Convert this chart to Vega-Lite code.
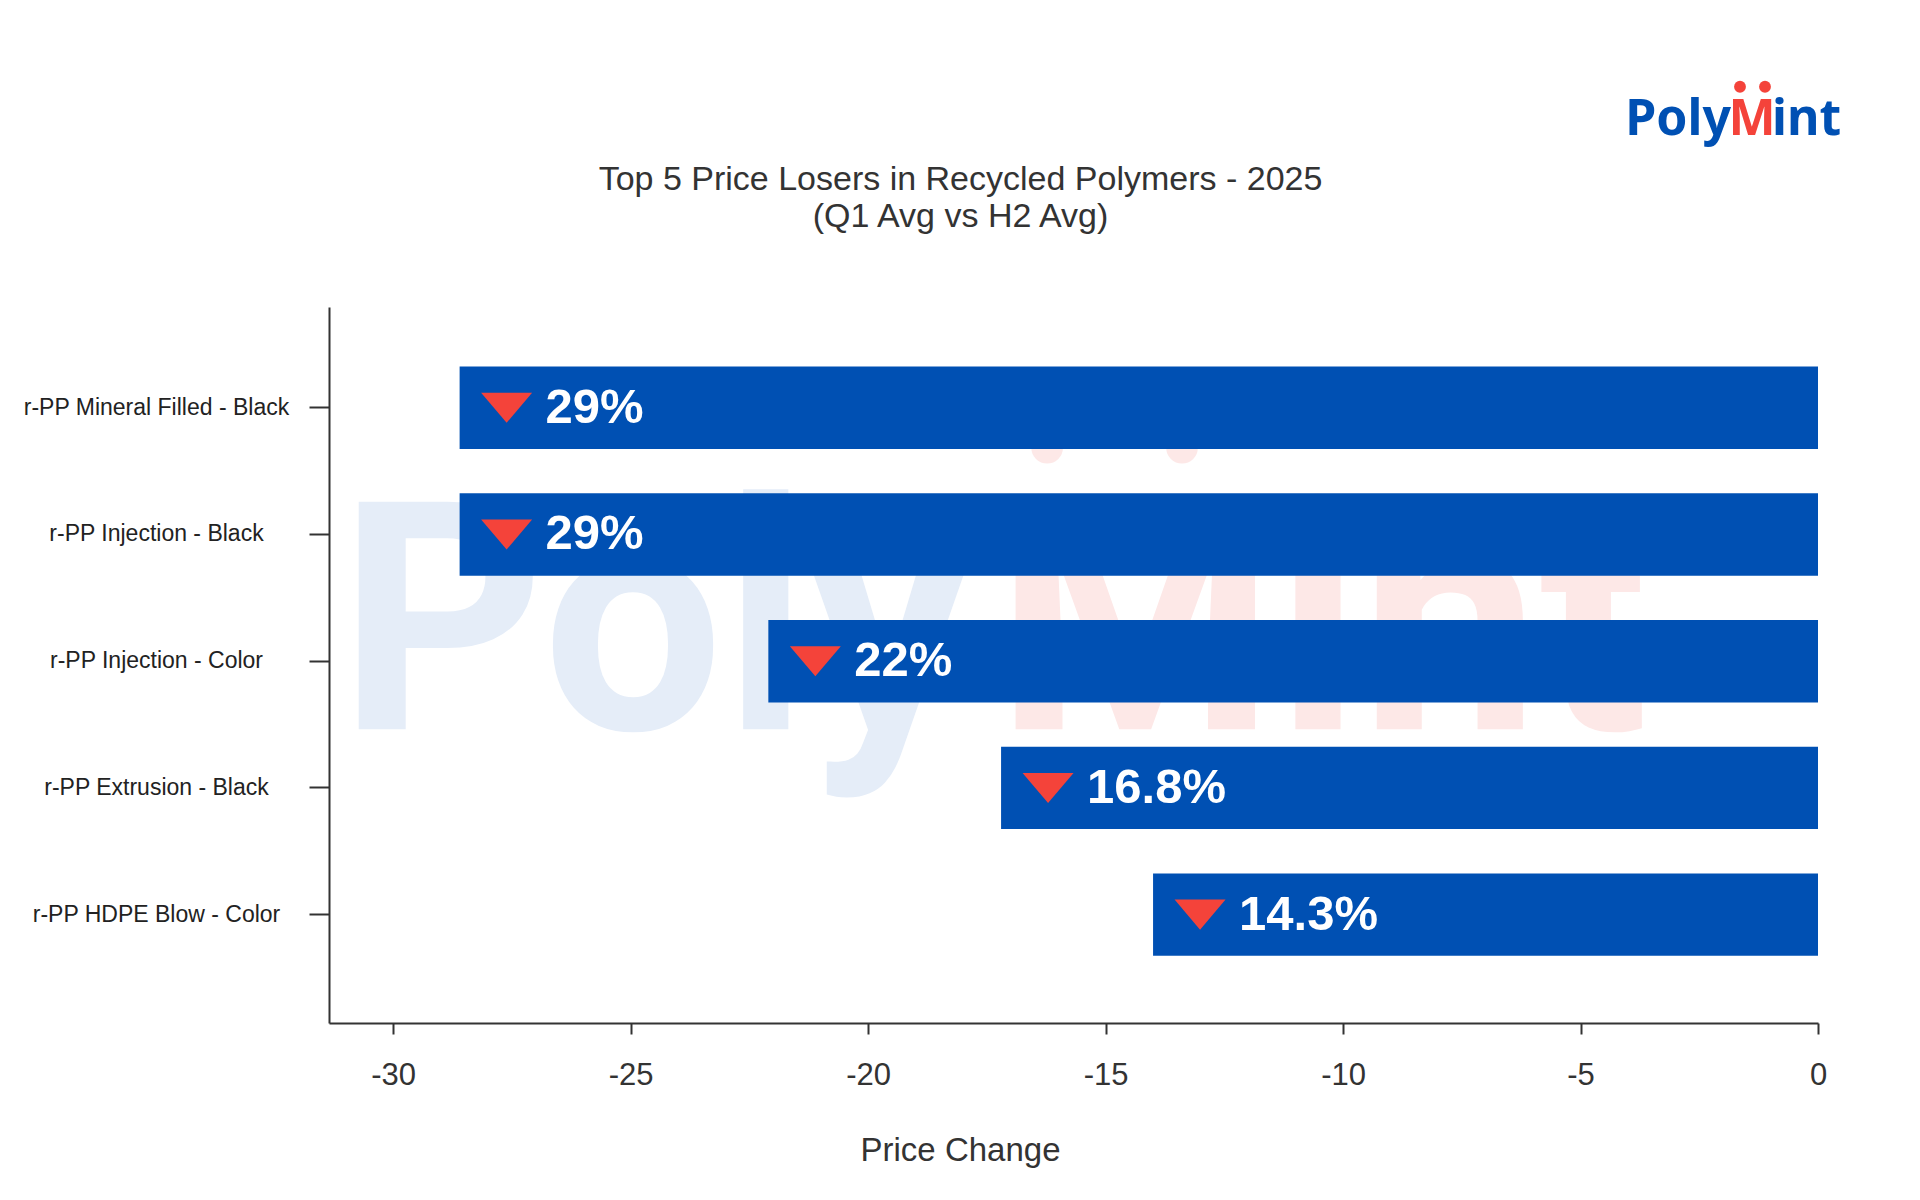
{
  "$schema": "https://vega.github.io/schema/vega-lite/v6.json",
  "width": 1489,
  "height": 716,
  "autosize": {"type": "none"},
  "padding": {"left": 329, "top": 307, "right": 102, "bottom": 177},
  "background": "#ffffff",
  "config": {"view": {"stroke": null}, "font": "Liberation Sans"},
  "title": {
    "text": ["Top 5 Price Losers in Recycled Polymers - 2025", "(Q1 Avg vs H2 Avg)"],
    "font": "Liberation Sans",
    "fontSize": 34,
    "fontWeight": "normal",
    "color": "#333333",
    "lineHeight": 37,
    "anchor": "middle",
    "frame": "group",
    "dx": -113,
    "offset": -153
  },
  "data": {
    "values": [
      {"product": "r-PP Mineral Filled - Black", "change": -28.6, "pct": "29%"},
      {"product": "r-PP Injection - Black", "change": -28.6, "pct": "29%"},
      {"product": "r-PP Injection - Color", "change": -22.1, "pct": "22%"},
      {"product": "r-PP Extrusion - Black", "change": -17.2, "pct": "16.8%"},
      {"product": "r-PP HDPE Blow - Color", "change": -14.0, "pct": "14.3%"}
    ]
  },
  "layer": [
    {
      "data": {"values": [{}]},
      "mark": {"type": "text", "text": "Poly", "align": "left", "baseline": "alphabetic", "font": "Roboto", "fontWeight": "bold", "fontSize": 320, "color": "#e5edf8", "dy": 68},
      "encoding": {
        "x": {"datum": -31.15, "type": "quantitative"},
        "y": {"datum": "r-PP Injection - Color", "type": "nominal"}
      }
    },
    {
      "data": {"values": [{}]},
      "mark": {"type": "text", "text": "Mint", "align": "left", "baseline": "alphabetic", "font": "Roboto", "fontWeight": "bold", "fontSize": 320, "color": "#fde8e7", "dy": 68},
      "encoding": {
        "x": {"datum": -17.32, "type": "quantitative"},
        "y": {"datum": "r-PP Injection - Color", "type": "nominal"}
      }
    },
    {
      "data": {"values": [{"dot": -16.23}, {"dot": -13.39}]},
      "mark": {"type": "point", "shape": "circle", "filled": true, "opacity": 1, "size": 1000, "color": "#fde8e7", "yOffset": 40},
      "encoding": {
        "x": {"field": "dot", "type": "quantitative"},
        "y": {"datum": "r-PP Mineral Filled - Black", "type": "nominal"}
      }
    },
    {
      "mark": {"type": "bar", "color": "#0050b3"},
      "encoding": {
        "y": {
          "field": "product",
          "type": "nominal",
          "sort": null,
          "scale": {
            "domain": ["r-PP Mineral Filled - Black", "r-PP Injection - Black", "r-PP Injection - Color", "r-PP Extrusion - Black", "r-PP HDPE Blow - Color"],
            "paddingInner": 0.35,
            "paddingOuter": 0.5,
            "align": 0.47
          },
          "axis": {
            "title": null,
            "domainColor": "#333333",
            "domainWidth": 2,
            "tickColor": "#333333",
            "tickWidth": 2,
            "tickSize": 20,
            "labelAlign": "center",
            "labelBaseline": "middle",
            "labelPadding": 153,
            "labelFont": "Liberation Sans",
            "labelFontSize": 23,
            "labelColor": "#222222",
            "labelLimit": 400
          }
        },
        "x": {
          "field": "change",
          "type": "quantitative",
          "scale": {"domain": [-31.35, 0], "nice": false, "zero": false},
          "axis": {
            "title": "Price Change",
            "values": [-30, -25, -20, -15, -10, -5, 0],
            "labelExpr": "'' + datum.value",
            "labelFlush": false,
            "grid": false,
            "domainColor": "#333333",
            "domainWidth": 2,
            "tickColor": "#333333",
            "tickWidth": 2,
            "tickSize": 11,
            "labelFont": "Liberation Sans",
            "labelFontSize": 31,
            "labelColor": "#333333",
            "labelPadding": 26,
            "titleFont": "Liberation Sans",
            "titleFontSize": 33,
            "titleFontWeight": "normal",
            "titleColor": "#333333",
            "titlePadding": 44,
            "titleX": 631,
            "titleAlign": "center"
          }
        }
      }
    },
    {
      "mark": {"type": "point", "shape": "M-1,-0.59L1,-0.59L0,0.59Z", "filled": true, "opacity": 1, "strokeWidth": 0, "size": 2601, "color": "#f4433a", "xOffset": 47},
      "encoding": {
        "x": {"field": "change", "type": "quantitative"},
        "y": {"field": "product", "type": "nominal"}
      }
    },
    {
      "mark": {"type": "text", "align": "left", "baseline": "middle", "dx": 86, "font": "Liberation Sans", "fontSize": 49, "fontWeight": "bold", "color": "#ffffff"},
      "encoding": {
        "x": {"field": "change", "type": "quantitative"},
        "y": {"field": "product", "type": "nominal"},
        "text": {"field": "pct"}
      }
    },
    {
      "data": {"values": [{}]},
      "mark": {"type": "text", "text": "Poly", "align": "right", "baseline": "alphabetic", "font": "Noto Sans", "fontWeight": "bold", "fontSize": 50, "color": "#0050b3", "dx": -87, "dy": -273},
      "encoding": {
        "x": {"datum": 0, "type": "quantitative"},
        "y": {"datum": "r-PP Mineral Filled - Black", "type": "nominal"}
      }
    },
    {
      "data": {"values": [{}]},
      "mark": {"type": "text", "text": "M", "align": "center", "baseline": "alphabetic", "font": "Noto Sans", "fontWeight": "bold", "fontSize": 50, "color": "#f4433a", "dx": -66, "dy": -273},
      "encoding": {
        "x": {"datum": 0, "type": "quantitative"},
        "y": {"datum": "r-PP Mineral Filled - Black", "type": "nominal"}
      }
    },
    {
      "data": {"values": [{}]},
      "mark": {"type": "text", "text": "int", "align": "left", "baseline": "alphabetic", "font": "Noto Sans", "fontWeight": "bold", "fontSize": 50, "color": "#0050b3", "dx": -46, "dy": -273},
      "encoding": {
        "x": {"datum": 0, "type": "quantitative"},
        "y": {"datum": "r-PP Mineral Filled - Black", "type": "nominal"}
      }
    },
    {
      "data": {"values": [{"side": -78}, {"side": -53}]},
      "mark": {"type": "point", "shape": "circle", "filled": true, "opacity": 1, "size": 140, "color": "#f4433a", "yOffset": -321},
      "encoding": {
        "x": {"datum": 0, "type": "quantitative"},
        "xOffset": {"field": "side", "type": "quantitative", "scale": null},
        "y": {"datum": "r-PP Mineral Filled - Black", "type": "nominal"}
      }
    }
  ]
}
